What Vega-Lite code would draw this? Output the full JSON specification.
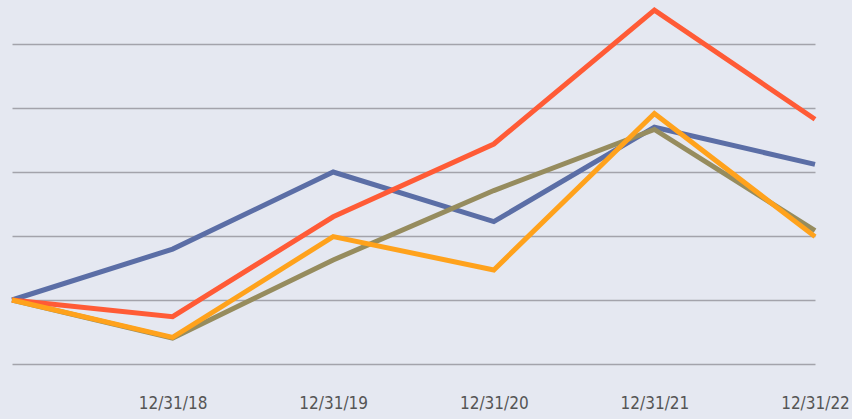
{
  "$schema": "https://vega.github.io/schema/vega-lite/v6.json",
  "autosize": {"type": "none"},
  "width": 803,
  "height": 320,
  "padding": {"left": 12, "top": 44, "right": 37, "bottom": 55},
  "background": "#e5e8f1",
  "config": {"view": {"stroke": null}, "font": "DejaVu Sans Condensed, Roboto"},
  "data": {
    "values": [
      {"date": "12/31/17", "series": "A", "value": 100},
      {"date": "12/31/18", "series": "A", "value": 115.9},
      {"date": "12/31/19", "series": "A", "value": 140},
      {"date": "12/31/20", "series": "A", "value": 124.5},
      {"date": "12/31/21", "series": "A", "value": 154},
      {"date": "12/31/22", "series": "A", "value": 142.4},
      {"date": "12/31/17", "series": "B", "value": 100},
      {"date": "12/31/18", "series": "B", "value": 88.1},
      {"date": "12/31/19", "series": "B", "value": 112.5},
      {"date": "12/31/20", "series": "B", "value": 134.2},
      {"date": "12/31/21", "series": "B", "value": 153.3},
      {"date": "12/31/22", "series": "B", "value": 121.7},
      {"date": "12/31/17", "series": "C", "value": 100},
      {"date": "12/31/18", "series": "C", "value": 94.8},
      {"date": "12/31/19", "series": "C", "value": 126},
      {"date": "12/31/20", "series": "C", "value": 148.75},
      {"date": "12/31/21", "series": "C", "value": 190.6},
      {"date": "12/31/22", "series": "C", "value": 156.5},
      {"date": "12/31/17", "series": "D", "value": 100},
      {"date": "12/31/18", "series": "D", "value": 88.3},
      {"date": "12/31/19", "series": "D", "value": 119.8},
      {"date": "12/31/20", "series": "D", "value": 109.4},
      {"date": "12/31/21", "series": "D", "value": 158.3},
      {"date": "12/31/22", "series": "D", "value": 119.8}
    ]
  },
  "mark": {"type": "line", "strokeWidth": 5, "clip": false, "strokeJoin": "miter"},
  "encoding": {
    "x": {
      "field": "date", "type": "ordinal",
      "scale": {"type": "point", "padding": 0},
      "axis": {
        "title": null, "domain": false, "ticks": false, "grid": false,
        "labelAngle": 0, "labelFontSize": 17, "labelColor": "#555555",
        "labelPadding": 31, "labelAlign": "center",
        "labelExpr": "datum.label == '12/31/17' ? '' : datum.label"
      }
    },
    "y": {
      "field": "value", "type": "quantitative",
      "scale": {"domain": [80, 180], "nice": false, "zero": false},
      "axis": {
        "title": null, "domain": false, "ticks": false, "labels": false,
        "values": [80, 100, 120, 140, 160, 180],
        "grid": true, "gridColor": "#a3a3ab", "gridWidth": 1.5
      }
    },
    "color": {
      "field": "series", "type": "nominal", "legend": null,
      "scale": {"domain": ["A", "B", "C", "D"], "range": ["#5b6ea6", "#968c5e", "#ff5b36", "#ffa21c"]}
    }
  }
}
